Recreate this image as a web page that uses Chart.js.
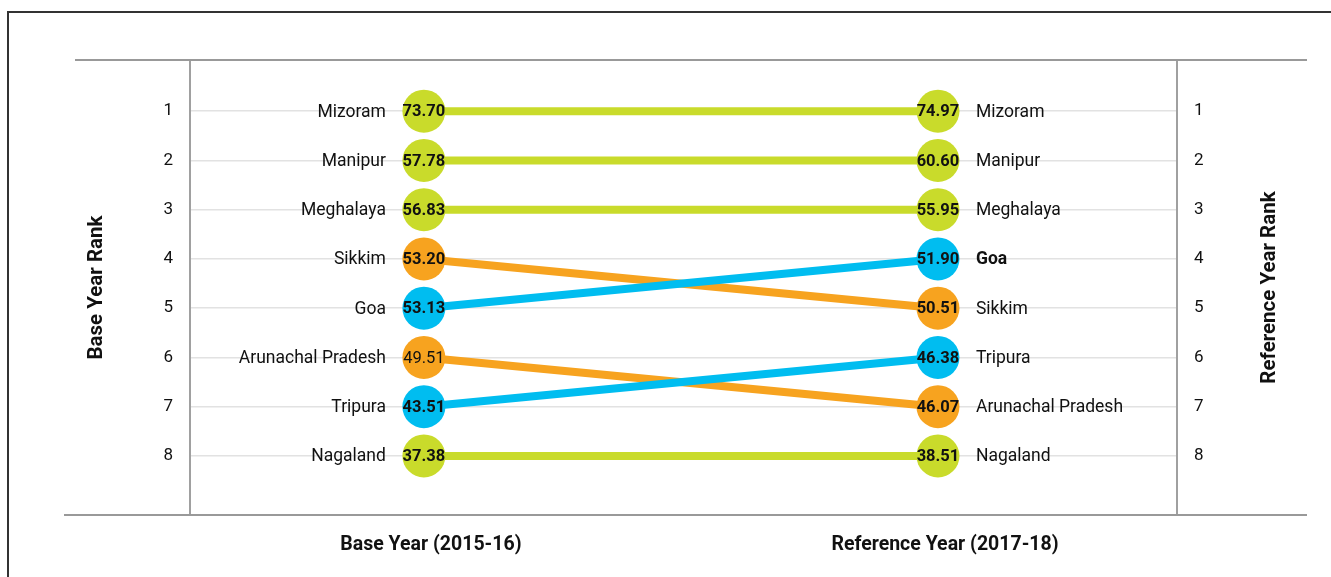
<!DOCTYPE html>
<html>
<head>
<meta charset="utf-8">
<script src="https://cdn.jsdelivr.net/npm/chart.js@4"></script>
<style>
  html, body { margin: 0; padding: 0; background: #fff; overflow: hidden; }
  #wrap { position: relative; width: 1331px; height: 577px; }
  #frame { position: absolute; left: 7px; top: 11px; width: 1400px; height: 700px;
           border: 2px solid #333; pointer-events: none; }
</style>
</head>
<body>
<div id="wrap">
  <canvas id="myChart"></canvas>
  <div id="frame"></div>
</div>
<script>
// data
const states = ['Mizoram', 'Manipur', 'Meghalaya', 'Sikkim', 'Goa', 'Arunachal Pradesh', 'Tripura', 'Nagaland'];
const baseRank = [1, 2, 3, 4, 5, 6, 7, 8];
const refRank = [1, 2, 3, 5, 4, 7, 6, 8];
const baseScore = [73.70, 57.78, 56.83, 53.20, 53.13, 49.51, 43.51, 37.38];
const refScore = [74.97, 60.60, 55.95, 50.51, 51.90, 46.07, 46.38, 38.51];
const yearLabels = ['Base Year (2015-16)', 'Reference Year (2017-18)'];
const rankTicks = [1, 2, 3, 4, 5, 6, 7, 8];

const GREEN = '#c9db2b';
const ORANGE = '#f7a31f';
const BLUE = '#00bdf0';

const pickColor = (i) => {
  if (refRank[i] === baseRank[i]) return GREEN;
  return refRank[i] > baseRank[i] ? ORANGE : BLUE;
};
const pickOrder = (i) => {
  if (refRank[i] === baseRank[i]) return 3;
  return refRank[i] > baseRank[i] ? 2 : 1;
};

const makeDatasets = () => {
  let result = [];
  for (let i = 0; i < states.length; i++) {
    let c = pickColor(i);
    result.push({
      label: states[i],
      data: [{ x: 0, y: baseRank[i] }, { x: 1, y: refRank[i] }],
      borderColor: c,
      backgroundColor: c,
      borderWidth: 8,
      pointRadius: 21.5,
      pointHoverRadius: 21.5,
      pointBackgroundColor: c,
      pointBorderWidth: 0,
      order: pickOrder(i),
    });
  }
  return result;
};

// names and values on the circles
const labelPlugin = {
  id: 'slopeLabels',
  afterDatasetsDraw(chart) {
    const ctx = chart.ctx;
    ctx.save();
    ctx.textBaseline = 'middle';
    chart.data.datasets.forEach((ds, i) => {
      const pts = chart.getDatasetMeta(i).data;
      const p0 = pts[0], p1 = pts[1];
      // values
      ctx.fillStyle = '#111';
      ctx.textAlign = 'center';
      ctx.font = (i === 5 ? '' : 'bold ') + '16.5px Roboto';
      ctx.fillText(baseScore[i].toFixed(2), p0.x, p0.y + 1);
      ctx.font = 'bold 16.5px Roboto';
      ctx.fillText(refScore[i].toFixed(2), p1.x, p1.y + 1);
      // names
      ctx.font = '17.5px Roboto';
      ctx.textAlign = 'right';
      ctx.fillText(states[i], p0.x - 38, p0.y + 1);
      ctx.textAlign = 'left';
      ctx.font = (states[i] === 'Goa' ? 'bold ' : '') + '17.5px Roboto';
      ctx.fillText(states[i], p1.x + 38, p1.y + 1);
    });
    ctx.restore();
  },
};

// top / bottom rules and the right-hand title
const framePlugin = {
  id: 'frameLines',
  afterDraw(chart) {
    const ctx = chart.ctx;
    const a = chart.chartArea;
    ctx.save();
    ctx.strokeStyle = '#999';
    ctx.lineWidth = 2;
    ctx.beginPath();
    ctx.moveTo(75, a.top);
    ctx.lineTo(1307, a.top);
    ctx.moveTo(64, a.bottom);
    ctx.lineTo(1307, a.bottom);
    ctx.stroke();

    const y2 = chart.scales.y2;
    ctx.translate(y2.right - 37, (a.top + a.bottom) / 2);
    ctx.rotate(-Math.PI / 2);
    ctx.fillStyle = '#111';
    ctx.font = 'bold 20.5px Roboto';
    ctx.textAlign = 'center';
    ctx.textBaseline = 'middle';
    ctx.fillText('Reference Year Rank', 0, 0);
    ctx.restore();
  },
};

const rankTickCfg = {
  padding: 17,
  color: '#111',
  font: { family: 'Roboto', size: 17 },
};

const config = {
  type: 'line',
  data: { datasets: makeDatasets() },
  options: {
    responsive: true,
    maintainAspectRatio: false,
    animation: false,
    events: [],
    layout: { padding: { top: 60, left: 75, right: 24, bottom: 0 } },
    plugins: {
      legend: { display: false },
      tooltip: { enabled: false },
    },
    scales: {
      x: {
        type: 'linear',
        min: -0.455,
        max: 1.465,
        afterBuildTicks: (scale) => {
          scale.ticks = [{ value: 0 }, { value: 1 }];
        },
        afterFit: (scale) => { scale.height = 62; },
        grid: { display: false },
        border: { display: false },
        ticks: {
          padding: 10,
          labelOffset: 7,
          color: '#111',
          font: { family: 'Roboto', size: 19.5, weight: 'bold' },
          callback: (v) => yearLabels[v],
        },
      },
      y: {
        type: 'linear',
        position: 'left',
        reverse: true,
        min: -0.04,
        max: 9.2,
        afterBuildTicks: (scale) => {
          scale.ticks = rankTicks.map((v) => ({ value: v }));
        },
        afterFit: (scale) => { scale.width = 115; },
        grid: { color: '#e2e2e2', lineWidth: 1.5, drawTicks: false },
        border: { display: true, color: '#a0a0a0', width: 2 },
        ticks: rankTickCfg,
        title: {
          display: true,
          text: 'Base Year Rank',
          color: '#111',
          padding: { top: 10, bottom: 0 },
          font: { family: 'Roboto', size: 20.5, weight: 'bold' },
        },
      },
      y2: {
        type: 'linear',
        position: 'right',
        reverse: true,
        min: -0.04,
        max: 9.2,
        afterBuildTicks: (scale) => {
          scale.ticks = rankTicks.map((v) => ({ value: v }));
        },
        afterFit: (scale) => { scale.width = 130; },
        grid: { display: false, drawTicks: false },
        border: { display: true, color: '#a0a0a0', width: 2 },
        ticks: rankTickCfg,
      },
    },
  },
  plugins: [labelPlugin, framePlugin],
};

const slopeChart = new Chart(document.getElementById('myChart'), config);
</script>
</body>
</html>
